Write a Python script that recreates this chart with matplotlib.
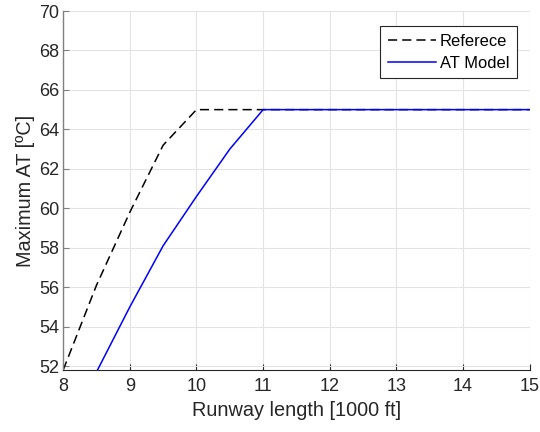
import matplotlib.pyplot as plt

plt.rcParams['font.family'] = ['Liberation Sans', 'DejaVu Sans']

# runway length [1000 ft]
ref_x = [8, 8.5, 9, 9.5, 10, 11, 12, 13, 14, 15]
ref_y = [51.8, 56.1, 59.8, 63.2, 65, 65, 65, 65, 65, 65]
model_x = [8.5, 9, 9.5, 10, 10.5, 11, 12, 13, 14, 15]
model_y = [51.7, 55.0, 58.1, 60.6, 63.0, 65, 65, 65, 65, 65]

fig = plt.figure(figsize=(5.4, 4.32), dpi=100)
ax = fig.add_axes([0.117, 0.1435, 0.864, 0.831])

ax.plot(ref_x, ref_y, "--", color="black", lw=1.1, dashes=(6, 3.3), label="Referece")
ax.plot(model_x, model_y, "-", color="blue", lw=1.1, label="AT Model")

ax.set_xlim(8, 15)
ax.set_ylim(51.8, 70)
ax.set_xticks(range(8, 16))
ax.set_yticks(range(52, 71, 2))
ax.grid(True, color="#e3e3e3", lw=0.8)
ax.set_axisbelow(True)

for s in ["top", "right"]:
    ax.spines[s].set_visible(False)
ax.spines["left"].set_color("#808080")
ax.spines["left"].set_linewidth(1.0)
ax.spines["bottom"].set_color("#262626")
ax.tick_params(direction="in", length=4, labelsize=13, colors="#262626")
ax.tick_params(axis="x", pad=6)
ax.tick_params(axis="y", colors="#808080", labelcolor="#262626", pad=3)

ax.set_xlabel("Runway length [1000 ft]", fontsize=14.3, color="#262626", labelpad=4)
ax.set_ylabel("Maximum AT [ºC]", fontsize=14.3, color="#262626", labelpad=3)

leg = ax.legend(loc="upper right", bbox_to_anchor=(0.972, 0.958), fontsize=11.9,
                fancybox=False, edgecolor="#262626", framealpha=1,
                handlelength=2.9, handletextpad=0.25, borderpad=0.45,
                labelspacing=0.45, borderaxespad=0)
leg.get_frame().set_linewidth(0.8)

fig.savefig("out.png", dpi=100)
